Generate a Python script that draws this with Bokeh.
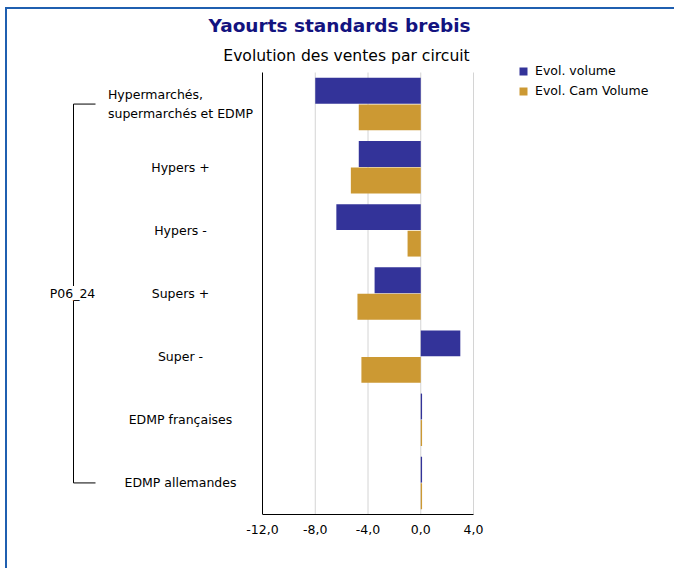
from bokeh.plotting import figure
from bokeh.models import (Range1d, ColumnDataSource, LabelSet, Label, Whisker,
                          Legend, LegendItem, FixedTicker)
from bokeh.core.properties import value
from bokeh.embed import file_html
from bokeh.resources import INLINE

# ---- data ----
categories = ["Hypermarchés,\nsupermarchés et EDMP", "Hypers +", "Hypers -",
              "Supers +", "Super -", "EDMP françaises", "EDMP allemandes"]
evol_volume = [-8.0, -4.7, -6.4, -3.5, 3.0, 0.1, 0.1]
evol_cam_volume = [-4.7, -5.3, -1.0, -4.8, -4.5, 0.1, 0.1]
x_ticks = [-12, -8, -4, 0, 4]
x_tick_labels = ["-12,0", "-8,0", "-4,0", "0,0", "4,0"]
series_names = ["Evol. volume", "Evol. Cam Volume"]
group_label = "P06_24"
title_text = "Yaourts standards brebis"
subtitle_text = "Evolution des ventes par circuit"

FONT = "DejaVu Sans"
BLUE = "#333399"
GOLD = "#CC9933"
FRAME_BLUE = "#1F5FB0"

# ---- layout (pixels) ----
W, H = 674, 568
AXIS_H = 54                 # space for the x tick labels below the plot area
PLOT_L, PLOT_W = 262, 211   # plot area left edge / width inside the canvas
PLOT_T = 72                 # plot area top inside the canvas
FRAME_H = H - AXIS_H
n = len(categories)
px_x = PLOT_W / (x_ticks[-1] - x_ticks[0])
px_y = (FRAME_H - PLOT_T) / n
x_range = Range1d(x_ticks[0] - PLOT_L / px_x, x_ticks[-1] + (W - PLOT_L - PLOT_W) / px_x)
y_range = Range1d(n, -PLOT_T / px_y)

pos = [i + 0.5 for i in range(n)]
src = ColumnDataSource(dict(
    cat=categories, pos=pos,
    y_vol=[v - 0.21 for v in pos], y_cam=[v + 0.21 for v in pos],
    vol=evol_volume, cam=evol_cam_volume))

p = figure(width=W, height=H, output_backend="svg", toolbar_location=None,
           x_range=x_range, y_range=y_range, y_axis_location=None,
           min_border=0, min_border_bottom=AXIS_H)
p.outline_line_color = None
p.grid.visible = False
p.background_fill_color = None
p.border_fill_color = None
p.styles = {"background-color": "white",
            "box-shadow": f"inset 5px 7px 0 0 white, inset 7px 9px 0 0 {FRAME_BLUE}"}

# grid lines and left axis line
gsrc = ColumnDataSource(dict(x=x_ticks[1:], y0=[0] * (len(x_ticks) - 1),
                             y1=[n] * (len(x_ticks) - 1)))
p.segment(x0="x", x1="x", y0="y0", y1="y1", source=gsrc, line_color="#D4D4D4", line_width=1)
p.segment(x0=x_ticks[0], x1=x_ticks[0], y0=0, y1=n, line_color="black", line_width=1)

r_vol = p.hbar(y="y_vol", right="vol", left=0, height=0.41, source=src,
               fill_color=BLUE, line_color=None)
r_cam = p.hbar(y="y_cam", right="cam", left=0, height=0.41, source=src,
               fill_color=GOLD, line_color=None)

# x axis
ax = p.xaxis[0]
ax.bounds = (x_ticks[0], x_ticks[-1])
ax.ticker = FixedTicker(ticks=x_ticks)
ax.major_label_overrides = {t: l for t, l in zip(x_ticks, x_tick_labels)}
ax.major_tick_in = 0
ax.major_tick_out = 0
ax.minor_tick_line_color = None
ax.axis_line_color = "black"
ax.major_label_text_font = FONT
ax.major_label_text_font_size = "12.5px"
ax.major_label_text_color = "black"
ax.major_label_standoff = 10

# category labels
p.add_layout(LabelSet(x=180, y="pos", x_units="screen", text="cat", source=src,
                      text_align="center", text_baseline="middle",
                      text_font=value(FONT), text_font_size=value("12.5px"),
                      text_line_height=1.3, text_color="black"))

# bracket
bsrc = ColumnDataSource(dict(base=[pos[0], pos[-1]], lower=[73, 73], upper=[95, 95]))
p.add_layout(Whisker(base="base", lower="lower", upper="upper", source=bsrc,
                     dimension="width", lower_units="screen", upper_units="screen",
                     lower_head=None, upper_head=None, line_color="black", line_width=1))
vsrc = ColumnDataSource(dict(base=[73], lower=[pos[0]], upper=[pos[-1]]))
p.add_layout(Whisker(base="base", lower="lower", upper="upper", source=vsrc,
                     dimension="height", base_units="screen",
                     lower_head=None, upper_head=None, line_color="black", line_width=1))
p.add_layout(Label(x=72, y=(pos[0] + pos[-1]) / 2, x_units="screen", text=group_label,
                   text_align="center", text_baseline="middle", text_font=FONT,
                   text_font_size="12.5px", background_fill_color="white",
                   text_color="black"))

# titles
p.add_layout(Label(x=339, y=FRAME_H - 25, x_units="screen", y_units="screen", text=title_text,
                   text_align="center", text_baseline="middle", text_font=FONT,
                   text_font_style="bold", text_font_size="18.5px", text_color="#13137F"))
p.add_layout(Label(x=346, y=FRAME_H - 55, x_units="screen", y_units="screen", text=subtitle_text,
                   text_align="center", text_baseline="middle", text_font=FONT,
                   text_font_size="15.6px", text_color="black"))

legend = Legend(items=[LegendItem(label=series_names[0], renderers=[r_vol]),
                       LegendItem(label=series_names[1], renderers=[r_cam])],
                location=(518, FRAME_H - 98), border_line_color=None, background_fill_alpha=0,
                label_text_font=FONT, label_text_font_size="12.5px", label_text_color="black",
                glyph_width=10, glyph_height=10, label_height=10, spacing=5,
                padding=0, margin=0, label_standoff=7)
p.add_layout(legend)

open("out.html", "w").write(file_html(p, INLINE))
